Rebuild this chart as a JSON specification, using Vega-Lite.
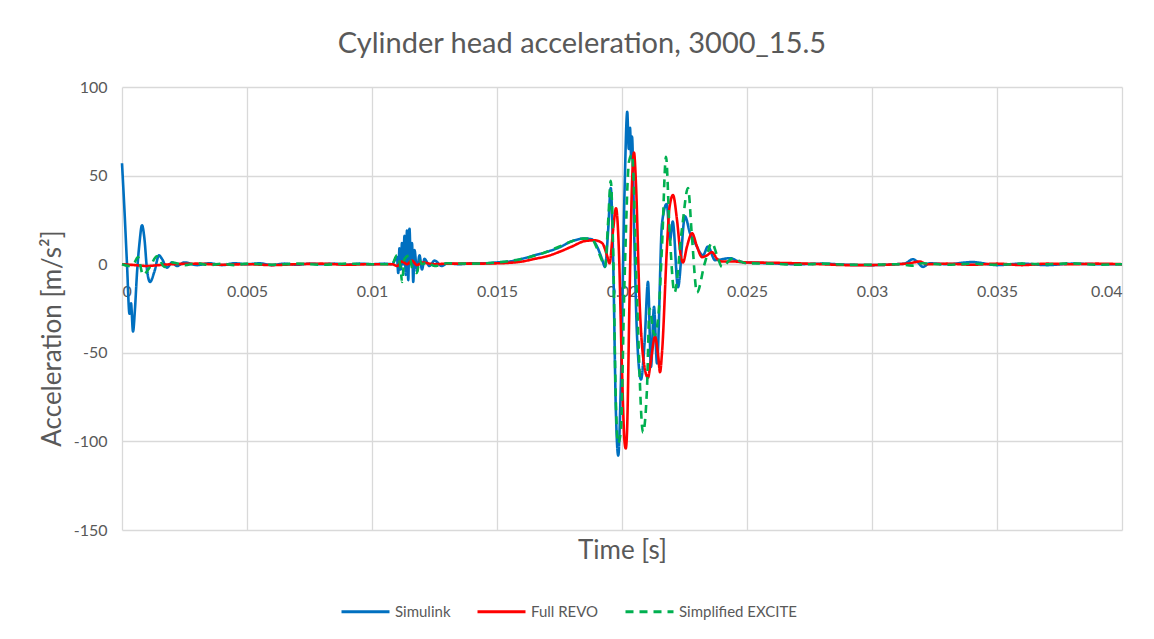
{
  "$schema": "https://vega.github.io/schema/vega-lite/v6.json",
  "width": 1000,
  "height": 443,
  "autosize": {"type": "none"},
  "padding": {"left": 122, "top": 87, "right": 32, "bottom": 109},
  "background": "white",
  "title": {"text": "Cylinder head acceleration, 3000_15.5", "font": "Lato", "fontSize": 29, "fontWeight": "normal", "color": "#595959", "anchor": "middle", "dx": -40, "offset": 20},
  "config": {
    "view": {"stroke": null},
    "axis": {"labelFont": "Lato", "titleFont": "Lato", "labelColor": "#595959", "titleColor": "#595959", "labelFontSize": 16, "titleFontSize": 26, "titleFontWeight": "normal", "gridColor": "#d9d9d9", "gridWidth": 1.3, "domainColor": "#d9d9d9", "domainWidth": 1.3, "ticks": false},
    "legend": {"labelFont": "Lato", "labelColor": "#595959", "labelFontSize": 15}
  },
  "data": {"values": [
    {"s": "Simulink", "t": 0, "v": 57}, {"s": "Simulink", "t": 0.0001, "v": 30}, {"s": "Simulink", "t": 0.0002, "v": 0}, {"s": "Simulink", "t": 0.0003, "v": -28}, {"s": "Simulink", "t": 0.00036, "v": -22}, {"s": "Simulink", "t": 0.00044, "v": -38}, {"s": "Simulink", "t": 0.00052, "v": -25}, {"s": "Simulink", "t": 0.0006, "v": -5}, {"s": "Simulink", "t": 0.0007, "v": 12}, {"s": "Simulink", "t": 0.0008, "v": 22}, {"s": "Simulink", "t": 0.0009, "v": 14}, {"s": "Simulink", "t": 0.001, "v": -3}, {"s": "Simulink", "t": 0.00112, "v": -10}, {"s": "Simulink", "t": 0.0013, "v": -4}, {"s": "Simulink", "t": 0.00148, "v": 5}, {"s": "Simulink", "t": 0.0016, "v": 3}, {"s": "Simulink", "t": 0.0018, "v": -2}, {"s": "Simulink", "t": 0.002, "v": 1}, {"s": "Simulink", "t": 0.0022, "v": -1}, {"s": "Simulink", "t": 0.0025, "v": 1}, {"s": "Simulink", "t": 0.003, "v": -0.5}, {"s": "Simulink", "t": 0.0035, "v": 0.5}, {"s": "Simulink", "t": 0.004, "v": -0.5}, {"s": "Simulink", "t": 0.0045, "v": 0.5}, {"s": "Simulink", "t": 0.005, "v": 0}, {"s": "Simulink", "t": 0.0055, "v": 0.5}, {"s": "Simulink", "t": 0.006, "v": -0.5}, {"s": "Simulink", "t": 0.0065, "v": 0.3}, {"s": "Simulink", "t": 0.007, "v": -0.3}, {"s": "Simulink", "t": 0.0075, "v": 0.3}, {"s": "Simulink", "t": 0.008, "v": 0}, {"s": "Simulink", "t": 0.0085, "v": 0.3}, {"s": "Simulink", "t": 0.009, "v": -0.3}, {"s": "Simulink", "t": 0.0095, "v": 0.3}, {"s": "Simulink", "t": 0.01, "v": 0}, {"s": "Simulink", "t": 0.0105, "v": 0.3}, {"s": "Simulink", "t": 0.0108, "v": 0}, {"s": "Simulink", "t": 0.011, "v": 4}, {"s": "Simulink", "t": 0.01105, "v": -5}, {"s": "Simulink", "t": 0.0111, "v": 9}, {"s": "Simulink", "t": 0.01115, "v": -3}, {"s": "Simulink", "t": 0.0112, "v": 12}, {"s": "Simulink", "t": 0.01125, "v": 0}, {"s": "Simulink", "t": 0.0113, "v": 16}, {"s": "Simulink", "t": 0.01135, "v": -6}, {"s": "Simulink", "t": 0.0114, "v": 19}, {"s": "Simulink", "t": 0.01145, "v": -9}, {"s": "Simulink", "t": 0.0115, "v": 20}, {"s": "Simulink", "t": 0.01155, "v": 2}, {"s": "Simulink", "t": 0.0116, "v": 12}, {"s": "Simulink", "t": 0.01165, "v": -10}, {"s": "Simulink", "t": 0.0117, "v": 8}, {"s": "Simulink", "t": 0.0118, "v": -4}, {"s": "Simulink", "t": 0.0119, "v": 5}, {"s": "Simulink", "t": 0.012, "v": -3}, {"s": "Simulink", "t": 0.0121, "v": 3}, {"s": "Simulink", "t": 0.0123, "v": -1}, {"s": "Simulink", "t": 0.0125, "v": 2}, {"s": "Simulink", "t": 0.0128, "v": -1}, {"s": "Simulink", "t": 0.013, "v": 0.5}, {"s": "Simulink", "t": 0.0135, "v": 0}, {"s": "Simulink", "t": 0.014, "v": 0.5}, {"s": "Simulink", "t": 0.0145, "v": 0.5}, {"s": "Simulink", "t": 0.015, "v": 1}, {"s": "Simulink", "t": 0.0155, "v": 1.5}, {"s": "Simulink", "t": 0.016, "v": 3}, {"s": "Simulink", "t": 0.0165, "v": 5}, {"s": "Simulink", "t": 0.017, "v": 7}, {"s": "Simulink", "t": 0.0175, "v": 9.5}, {"s": "Simulink", "t": 0.018, "v": 13}, {"s": "Simulink", "t": 0.0185, "v": 14.5}, {"s": "Simulink", "t": 0.0188, "v": 14}, {"s": "Simulink", "t": 0.019, "v": 10}, {"s": "Simulink", "t": 0.0192, "v": 3}, {"s": "Simulink", "t": 0.01932, "v": -1.5}, {"s": "Simulink", "t": 0.01945, "v": 20}, {"s": "Simulink", "t": 0.01955, "v": 43}, {"s": "Simulink", "t": 0.01965, "v": 0}, {"s": "Simulink", "t": 0.01975, "v": -80}, {"s": "Simulink", "t": 0.01985, "v": -108}, {"s": "Simulink", "t": 0.01995, "v": -70}, {"s": "Simulink", "t": 0.0201, "v": 40}, {"s": "Simulink", "t": 0.02021, "v": 86}, {"s": "Simulink", "t": 0.02027, "v": 65}, {"s": "Simulink", "t": 0.02032, "v": 77}, {"s": "Simulink", "t": 0.02037, "v": 60}, {"s": "Simulink", "t": 0.0204, "v": 72}, {"s": "Simulink", "t": 0.0205, "v": 10}, {"s": "Simulink", "t": 0.0206, "v": -40}, {"s": "Simulink", "t": 0.02076, "v": -65}, {"s": "Simulink", "t": 0.0209, "v": -45}, {"s": "Simulink", "t": 0.02104, "v": -10}, {"s": "Simulink", "t": 0.02116, "v": -58}, {"s": "Simulink", "t": 0.02128, "v": -24}, {"s": "Simulink", "t": 0.0214, "v": -56}, {"s": "Simulink", "t": 0.0216, "v": 23}, {"s": "Simulink", "t": 0.02179, "v": 34}, {"s": "Simulink", "t": 0.02192, "v": 13.5}, {"s": "Simulink", "t": 0.02203, "v": 24}, {"s": "Simulink", "t": 0.02224, "v": -13}, {"s": "Simulink", "t": 0.02252, "v": 27}, {"s": "Simulink", "t": 0.02272, "v": 17.5}, {"s": "Simulink", "t": 0.02292, "v": 12}, {"s": "Simulink", "t": 0.02324, "v": 5}, {"s": "Simulink", "t": 0.02344, "v": 10}, {"s": "Simulink", "t": 0.02372, "v": 2.3}, {"s": "Simulink", "t": 0.02432, "v": 3.4}, {"s": "Simulink", "t": 0.02472, "v": 1.3}, {"s": "Simulink", "t": 0.02552, "v": 0.7}, {"s": "Simulink", "t": 0.026, "v": 0.5}, {"s": "Simulink", "t": 0.027, "v": 0}, {"s": "Simulink", "t": 0.028, "v": 0.3}, {"s": "Simulink", "t": 0.029, "v": -0.3}, {"s": "Simulink", "t": 0.03, "v": -0.5}, {"s": "Simulink", "t": 0.031, "v": 0}, {"s": "Simulink", "t": 0.0313, "v": 0.3}, {"s": "Simulink", "t": 0.03164, "v": 2.8}, {"s": "Simulink", "t": 0.0318, "v": 1.5}, {"s": "Simulink", "t": 0.03204, "v": -1.5}, {"s": "Simulink", "t": 0.0323, "v": 0.5}, {"s": "Simulink", "t": 0.033, "v": 0}, {"s": "Simulink", "t": 0.034, "v": 1.2}, {"s": "Simulink", "t": 0.035, "v": -0.5}, {"s": "Simulink", "t": 0.036, "v": 0.3}, {"s": "Simulink", "t": 0.037, "v": -0.5}, {"s": "Simulink", "t": 0.038, "v": 0.3}, {"s": "Simulink", "t": 0.039, "v": 0}, {"s": "Simulink", "t": 0.04, "v": 0},

    {"s": "Full REVO", "t": 0, "v": 0}, {"s": "Full REVO", "t": 0.0005, "v": -0.5}, {"s": "Full REVO", "t": 0.001, "v": -1}, {"s": "Full REVO", "t": 0.0015, "v": -0.5}, {"s": "Full REVO", "t": 0.002, "v": 0}, {"s": "Full REVO", "t": 0.003, "v": 0.3}, {"s": "Full REVO", "t": 0.004, "v": -0.3}, {"s": "Full REVO", "t": 0.005, "v": 0}, {"s": "Full REVO", "t": 0.006, "v": -0.5}, {"s": "Full REVO", "t": 0.007, "v": 0}, {"s": "Full REVO", "t": 0.008, "v": 0.3}, {"s": "Full REVO", "t": 0.009, "v": -0.3}, {"s": "Full REVO", "t": 0.01, "v": 0}, {"s": "Full REVO", "t": 0.0108, "v": 0}, {"s": "Full REVO", "t": 0.011, "v": -1}, {"s": "Full REVO", "t": 0.0112, "v": 1.5}, {"s": "Full REVO", "t": 0.0114, "v": 0}, {"s": "Full REVO", "t": 0.0116, "v": 2}, {"s": "Full REVO", "t": 0.0118, "v": -0.5}, {"s": "Full REVO", "t": 0.012, "v": 1}, {"s": "Full REVO", "t": 0.0125, "v": 0}, {"s": "Full REVO", "t": 0.013, "v": 0.3}, {"s": "Full REVO", "t": 0.014, "v": 0.3}, {"s": "Full REVO", "t": 0.015, "v": 0.5}, {"s": "Full REVO", "t": 0.0155, "v": 0.8}, {"s": "Full REVO", "t": 0.016, "v": 1.5}, {"s": "Full REVO", "t": 0.0165, "v": 3}, {"s": "Full REVO", "t": 0.017, "v": 4.5}, {"s": "Full REVO", "t": 0.0175, "v": 7}, {"s": "Full REVO", "t": 0.018, "v": 10}, {"s": "Full REVO", "t": 0.0185, "v": 13}, {"s": "Full REVO", "t": 0.0189, "v": 13.5}, {"s": "Full REVO", "t": 0.0192, "v": 12}, {"s": "Full REVO", "t": 0.0194, "v": 5}, {"s": "Full REVO", "t": 0.0195, "v": 0.5}, {"s": "Full REVO", "t": 0.01965, "v": 20}, {"s": "Full REVO", "t": 0.01976, "v": 31.6}, {"s": "Full REVO", "t": 0.01987, "v": 10}, {"s": "Full REVO", "t": 0.02, "v": -60}, {"s": "Full REVO", "t": 0.0201, "v": -100}, {"s": "Full REVO", "t": 0.02015, "v": -104}, {"s": "Full REVO", "t": 0.0202, "v": -95}, {"s": "Full REVO", "t": 0.0203, "v": -20}, {"s": "Full REVO", "t": 0.0204, "v": 45}, {"s": "Full REVO", "t": 0.02048, "v": 63}, {"s": "Full REVO", "t": 0.02056, "v": 45}, {"s": "Full REVO", "t": 0.0207, "v": -20}, {"s": "Full REVO", "t": 0.0209, "v": -58}, {"s": "Full REVO", "t": 0.02104, "v": -64}, {"s": "Full REVO", "t": 0.02115, "v": -55}, {"s": "Full REVO", "t": 0.02132, "v": -41}, {"s": "Full REVO", "t": 0.02145, "v": -52}, {"s": "Full REVO", "t": 0.02152, "v": -61}, {"s": "Full REVO", "t": 0.0216, "v": -50}, {"s": "Full REVO", "t": 0.0218, "v": 10}, {"s": "Full REVO", "t": 0.0219, "v": 32}, {"s": "Full REVO", "t": 0.02204, "v": 39}, {"s": "Full REVO", "t": 0.0222, "v": 25}, {"s": "Full REVO", "t": 0.02235, "v": 5}, {"s": "Full REVO", "t": 0.02244, "v": 1}, {"s": "Full REVO", "t": 0.0226, "v": 10}, {"s": "Full REVO", "t": 0.0228, "v": 17.5}, {"s": "Full REVO", "t": 0.023, "v": 10}, {"s": "Full REVO", "t": 0.0232, "v": 4}, {"s": "Full REVO", "t": 0.0234, "v": 5}, {"s": "Full REVO", "t": 0.0236, "v": 6.8}, {"s": "Full REVO", "t": 0.0238, "v": 3}, {"s": "Full REVO", "t": 0.024, "v": 1.5}, {"s": "Full REVO", "t": 0.0245, "v": 1.5}, {"s": "Full REVO", "t": 0.025, "v": 1}, {"s": "Full REVO", "t": 0.026, "v": 0.8}, {"s": "Full REVO", "t": 0.027, "v": 0.5}, {"s": "Full REVO", "t": 0.028, "v": 0}, {"s": "Full REVO", "t": 0.029, "v": -0.5}, {"s": "Full REVO", "t": 0.03, "v": -0.5}, {"s": "Full REVO", "t": 0.031, "v": 0}, {"s": "Full REVO", "t": 0.0315, "v": 0.5}, {"s": "Full REVO", "t": 0.0319, "v": 1.5}, {"s": "Full REVO", "t": 0.0322, "v": 0}, {"s": "Full REVO", "t": 0.033, "v": 0.3}, {"s": "Full REVO", "t": 0.034, "v": -0.3}, {"s": "Full REVO", "t": 0.035, "v": 0.3}, {"s": "Full REVO", "t": 0.036, "v": -0.5}, {"s": "Full REVO", "t": 0.037, "v": 0.3}, {"s": "Full REVO", "t": 0.038, "v": 0}, {"s": "Full REVO", "t": 0.039, "v": 0.3}, {"s": "Full REVO", "t": 0.04, "v": 0},

    {"s": "Simplified EXCITE", "t": 0, "v": 0}, {"s": "Simplified EXCITE", "t": 0.0003, "v": -1}, {"s": "Simplified EXCITE", "t": 0.0005, "v": 1}, {"s": "Simplified EXCITE", "t": 0.00064, "v": 4}, {"s": "Simplified EXCITE", "t": 0.00084, "v": -6}, {"s": "Simplified EXCITE", "t": 0.0011, "v": -2}, {"s": "Simplified EXCITE", "t": 0.0014, "v": 4.5}, {"s": "Simplified EXCITE", "t": 0.0017, "v": -1.5}, {"s": "Simplified EXCITE", "t": 0.002, "v": 1}, {"s": "Simplified EXCITE", "t": 0.0025, "v": -0.5}, {"s": "Simplified EXCITE", "t": 0.003, "v": 0.5}, {"s": "Simplified EXCITE", "t": 0.0035, "v": -0.5}, {"s": "Simplified EXCITE", "t": 0.004, "v": 0.3}, {"s": "Simplified EXCITE", "t": 0.0045, "v": -0.5}, {"s": "Simplified EXCITE", "t": 0.005, "v": 0.3}, {"s": "Simplified EXCITE", "t": 0.006, "v": -0.3}, {"s": "Simplified EXCITE", "t": 0.007, "v": 0.3}, {"s": "Simplified EXCITE", "t": 0.008, "v": -0.3}, {"s": "Simplified EXCITE", "t": 0.009, "v": 0.3}, {"s": "Simplified EXCITE", "t": 0.01, "v": 0}, {"s": "Simplified EXCITE", "t": 0.0108, "v": 0}, {"s": "Simplified EXCITE", "t": 0.011, "v": 5}, {"s": "Simplified EXCITE", "t": 0.01115, "v": -3}, {"s": "Simplified EXCITE", "t": 0.0112, "v": -10}, {"s": "Simplified EXCITE", "t": 0.0113, "v": 3}, {"s": "Simplified EXCITE", "t": 0.0115, "v": 5}, {"s": "Simplified EXCITE", "t": 0.0116, "v": -2}, {"s": "Simplified EXCITE", "t": 0.0118, "v": -5}, {"s": "Simplified EXCITE", "t": 0.0119, "v": 2}, {"s": "Simplified EXCITE", "t": 0.012, "v": 0}, {"s": "Simplified EXCITE", "t": 0.0122, "v": 1}, {"s": "Simplified EXCITE", "t": 0.0125, "v": -1}, {"s": "Simplified EXCITE", "t": 0.013, "v": 0.5}, {"s": "Simplified EXCITE", "t": 0.014, "v": 0.3}, {"s": "Simplified EXCITE", "t": 0.015, "v": 1}, {"s": "Simplified EXCITE", "t": 0.016, "v": 3}, {"s": "Simplified EXCITE", "t": 0.017, "v": 7}, {"s": "Simplified EXCITE", "t": 0.0175, "v": 10}, {"s": "Simplified EXCITE", "t": 0.018, "v": 13}, {"s": "Simplified EXCITE", "t": 0.0185, "v": 14.5}, {"s": "Simplified EXCITE", "t": 0.0188, "v": 14}, {"s": "Simplified EXCITE", "t": 0.019, "v": 9}, {"s": "Simplified EXCITE", "t": 0.0192, "v": 2}, {"s": "Simplified EXCITE", "t": 0.01932, "v": -1.5}, {"s": "Simplified EXCITE", "t": 0.01945, "v": 25}, {"s": "Simplified EXCITE", "t": 0.01955, "v": 47}, {"s": "Simplified EXCITE", "t": 0.01965, "v": 5}, {"s": "Simplified EXCITE", "t": 0.01975, "v": -75}, {"s": "Simplified EXCITE", "t": 0.01984, "v": -101}, {"s": "Simplified EXCITE", "t": 0.01995, "v": -95}, {"s": "Simplified EXCITE", "t": 0.0201, "v": -10}, {"s": "Simplified EXCITE", "t": 0.02028, "v": 58}, {"s": "Simplified EXCITE", "t": 0.0204, "v": 62}, {"s": "Simplified EXCITE", "t": 0.0206, "v": -20}, {"s": "Simplified EXCITE", "t": 0.02084, "v": -95}, {"s": "Simplified EXCITE", "t": 0.021, "v": -70}, {"s": "Simplified EXCITE", "t": 0.0211, "v": -25}, {"s": "Simplified EXCITE", "t": 0.0213, "v": -40}, {"s": "Simplified EXCITE", "t": 0.02145, "v": -30}, {"s": "Simplified EXCITE", "t": 0.0216, "v": 10}, {"s": "Simplified EXCITE", "t": 0.02176, "v": 60.6}, {"s": "Simplified EXCITE", "t": 0.0219, "v": 20}, {"s": "Simplified EXCITE", "t": 0.0221, "v": -16}, {"s": "Simplified EXCITE", "t": 0.0224, "v": 20}, {"s": "Simplified EXCITE", "t": 0.02264, "v": 43}, {"s": "Simplified EXCITE", "t": 0.0228, "v": 15}, {"s": "Simplified EXCITE", "t": 0.023, "v": -16}, {"s": "Simplified EXCITE", "t": 0.0233, "v": 0}, {"s": "Simplified EXCITE", "t": 0.0236, "v": 12}, {"s": "Simplified EXCITE", "t": 0.0238, "v": 5}, {"s": "Simplified EXCITE", "t": 0.024, "v": -1.5}, {"s": "Simplified EXCITE", "t": 0.0244, "v": 3}, {"s": "Simplified EXCITE", "t": 0.025, "v": 0.5}, {"s": "Simplified EXCITE", "t": 0.026, "v": 0.3}, {"s": "Simplified EXCITE", "t": 0.027, "v": -0.3}, {"s": "Simplified EXCITE", "t": 0.028, "v": 0.3}, {"s": "Simplified EXCITE", "t": 0.029, "v": -0.3}, {"s": "Simplified EXCITE", "t": 0.03, "v": -0.3}, {"s": "Simplified EXCITE", "t": 0.031, "v": 0}, {"s": "Simplified EXCITE", "t": 0.0316, "v": -0.8}, {"s": "Simplified EXCITE", "t": 0.032, "v": 0.5}, {"s": "Simplified EXCITE", "t": 0.033, "v": -0.3}, {"s": "Simplified EXCITE", "t": 0.034, "v": 0.3}, {"s": "Simplified EXCITE", "t": 0.035, "v": -0.3}, {"s": "Simplified EXCITE", "t": 0.036, "v": 0.3}, {"s": "Simplified EXCITE", "t": 0.037, "v": 0}, {"s": "Simplified EXCITE", "t": 0.038, "v": 0.5}, {"s": "Simplified EXCITE", "t": 0.039, "v": -0.3}, {"s": "Simplified EXCITE", "t": 0.04, "v": 0}
  ]},
  "mark": {"type": "line", "strokeWidth": 2.6, "interpolate": "monotone"},
  "encoding": {
    "x": {"field": "t", "type": "quantitative", "scale": {"domain": [0, 0.04], "nice": false},
      "axis": {"values": [0, 0.005, 0.01, 0.015, 0.02, 0.025, 0.03, 0.035, 0.04], "format": "~g", "offset": -266, "labelPadding": 19, "title": "Time [s]", "titleY": 273, "grid": true}},
    "y": {"field": "v", "type": "quantitative", "scale": {"domain": [-150, 100], "nice": false},
      "axis": {"values": [-150, -100, -50, 0, 50, 100], "labelExpr": "'' + datum.value", "domain": false, "labelPadding": 15, "title": "Acceleration [m/s²]", "titleX": -70, "titleY": 251, "titleBaseline": "middle", "titleAlign": "center", "titleAngle": -90}},
    "color": {"field": "s", "type": "nominal", "sort": ["Simulink", "Full REVO", "Simplified EXCITE"],
      "scale": {"domain": ["Simulink", "Full REVO", "Simplified EXCITE"], "range": ["#0070C0", "#FF0000", "#00B050"]},
      "legend": {"title": null, "orient": "none", "legendX": 218, "legendY": 499, "direction": "horizontal", "symbolType": "stroke", "symbolSize": 2304, "symbolStrokeWidth": 3, "columnPadding": 20, "labelOffset": 4}},
    "strokeDash": {"field": "s", "type": "nominal", "sort": ["Simulink", "Full REVO", "Simplified EXCITE"],
      "scale": {"domain": ["Simulink", "Full REVO", "Simplified EXCITE"], "range": [[1, 0], [1, 0], [8, 6]]},
      "legend": {"title": null, "orient": "none", "legendX": 218, "legendY": 499, "direction": "horizontal", "symbolType": "stroke", "symbolSize": 2304, "symbolStrokeWidth": 3, "columnPadding": 20, "labelOffset": 4}}
  }
}
